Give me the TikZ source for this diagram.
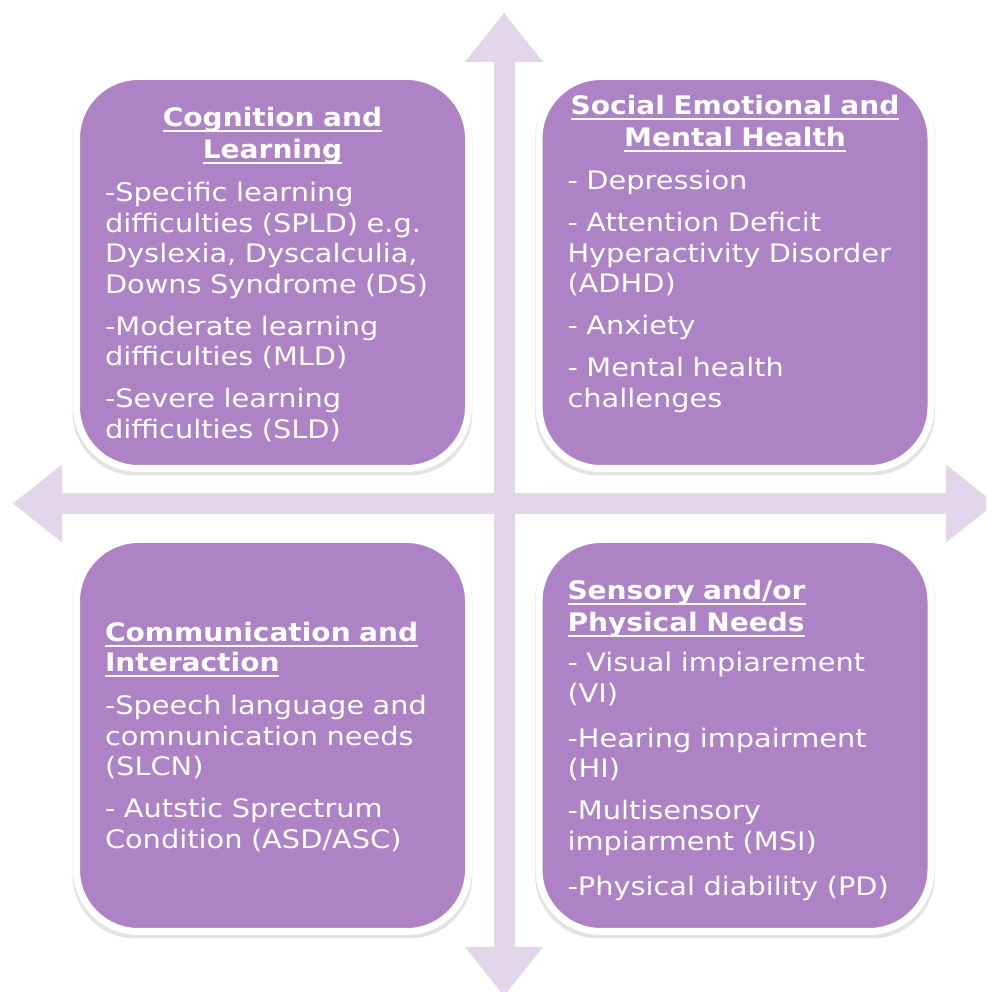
\documentclass[tikz,border=0pt]{standalone}
\usepackage{fontspec}
\setmainfont{DejaVu Sans}[FakeStretch=1.13, BoldFeatures={FakeStretch=1.10}]
\usetikzlibrary{arrows.meta, positioning, shadows}

\definecolor{boxpurple}{RGB}{173,131,197}
\definecolor{crosslilac}{RGB}{225,214,234}
\setlength{\parindent}{0pt}

% bold heading with the underline running through the descenders
\newcommand{\hd}[1]{\leavevmode\setbox0\hbox{\bfseries #1}\rlap{\rule[-5pt]{\wd0}{2pt}}\box0}

\tikzset{
  quad/.style={draw=white, line width=7pt, fill=boxpurple, rounded corners=62pt,
    minimum size=392pt, inner sep=0pt,
    drop shadow={shadow xshift=0pt, shadow yshift=-3pt, shadow scale=1.02, opacity=.22}},
  quadtext/.style={text=white, text width=335pt, align=left, inner sep=0pt,
    font=\fontsize{25.5}{30.5}\selectfont},
  crossarrow/.style={draw=crosslilac, line width=21pt,
    {Triangle[width=78pt, length=49pt, line width=0pt]}-{Triangle[width=78pt, length=49pt, line width=0pt]}}
}

\begin{document}
\begin{tikzpicture}[x=1pt, y=1pt]

    \useasboundingbox (0,0) rectangle (986,992);
    \clip (0,0) rectangle (986,992);

    % the cross behind the four boxes
    \coordinate (crossN) at (504,979);
    \coordinate (crossS) at (504,-4);
    \coordinate (crossW) at (13,488.5);
    \coordinate (crossE) at (995,488.5);
    \draw[crossarrow] (crossS) -- (crossN);
    \draw[crossarrow] (crossW) -- (crossE);

    % four boxes
    \node[quad] (cogn) at (272.5,719.5) {};
    \node[quad] (semh) at (735,719.5) {};
    \node[quad] (comm) at (272.5,256.5) {};
    \node[quad] (sens) at (735,256.5) {};

    \node[quadtext, below=34pt of cogn.north] (cogntext) {%
        {\centering\hd{Cognition and}\\[1.5pt]\hd{Learning}\par}\vspace{12.5pt}
        -Specific learning\\ difficulties (SPLD) e.g.\\ Dyslexia, Dyscalculia,\\ Downs Syndrome (DS)\\[11.5pt]
        -Moderate learning\\ difficulties (MLD)\\[11.5pt]
        -Severe learning\\ difficulties (SLD)};

    \node[quadtext, below=22pt of semh.north] (semhtext) {%
        {\centering\hd{Social Emotional and}\\[1.5pt]\hd{Mental Health}\par}\vspace{12.5pt}
        - Depression\\[11.5pt]
        - Attention Deficit\\ Hyperactivity Disorder\\ (ADHD)\\[11.5pt]
        - Anxiety\\[11.5pt]
        - Mental health\\ challenges};

    \node[quadtext, below=86pt of comm.north] (commtext) {%
        \hd{Communication and}\\[-0.5pt]\hd{Interaction}\\[12.5pt]
        -Speech language and\\ comnunication needs\\ (SLCN)\\[11.5pt]
        - Autstic Sprectrum\\ Condition (ASD/ASC)};

    \node[quadtext, below=44pt of sens.north] (senstext) {%
        \hd{Sensory and/or}\\[1.5pt]\hd{Physical Needs}\\[9.5pt]
        - Visual impiarement\\ (VI)\\[14.5pt]
        -Hearing impairment\\ (HI)\\[11.5pt]
        -Multisensory\\ impiarment (MSI)\\[14.5pt]
        -Physical diability (PD)};

\end{tikzpicture}
\end{document}
